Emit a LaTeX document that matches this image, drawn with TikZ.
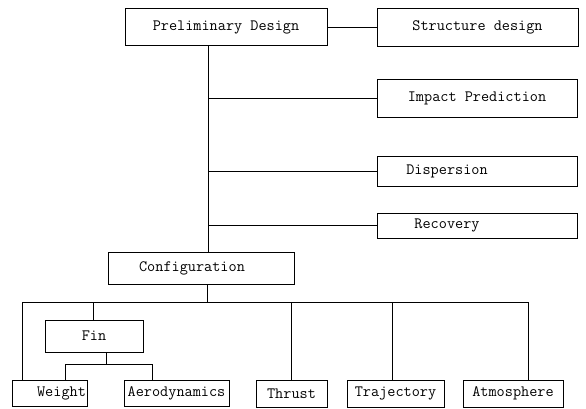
\documentclass[tikz,border=0pt]{standalone}
\begin{document}
\begin{tikzpicture}[x=1pt,y=-1pt, line width=0.8pt,
  box/.style={draw, rectangle, inner sep=0pt, font=\ttfamily\fontsize{15.8}{17}\selectfont},
  lbl/.style={inner sep=0pt, font=\ttfamily\fontsize{15.8}{17}\selectfont}]
\useasboundingbox (0,0) rectangle (586,408);
% top boxes
\node[box, minimum width=202pt, minimum height=37pt] (prelim) at (226,27) {Preliminary Design};
\node[box, minimum width=201pt, minimum height=38pt] (struct) at (477.5,27) {Structure design};
\node[box, minimum width=200pt, minimum height=38pt] (impact) at (477,98.5) {Impact Prediction};
\node[box, minimum width=200pt, minimum height=30pt, label={[lbl, xshift=-30pt]center:Dispersion}] (disp) at (477,171) {};
\node[box, minimum width=200pt, minimum height=25pt, label={[lbl, xshift=-30pt]center:Recovery}] (recov) at (477,225.5) {};
\node[box, minimum width=186pt, minimum height=32pt, label={[lbl, xshift=-9pt]center:Configuration}] (config) at (201,268) {};
% lower boxes
\node[box, minimum width=98pt, minimum height=32pt] (fin) at (94,336) {Fin};
\node[box, minimum width=75pt, minimum height=26pt, label={[lbl, xshift=12pt]center:Weight}] (weight) at (49.5,393.5) {};
\node[box, minimum width=105pt, minimum height=26pt] (aero) at (176.5,393.5) {Aerodynamics};
\node[box, minimum width=71pt, minimum height=27pt] (thrust) at (291.5,393.5) {Thrust};
\node[box, minimum width=97pt, minimum height=27pt] (traj) at (395.5,393.5) {Trajectory};
\node[box, minimum width=100pt, minimum height=27pt] (atmos) at (513,393.5) {Atmosphere};
% connector points
\coordinate (ta) at (208,46);
\coordinate (bus) at (207,302);
\coordinate (b0) at (22,302);
\coordinate (b1) at (528,302);
\coordinate (bf) at (93,302);
\coordinate (bt) at (291,302);
\coordinate (bj) at (392,302);
\coordinate (fs) at (106,364);
\coordinate (fs0) at (65,364);
\coordinate (fs1) at (152,364);
% connectors
\draw (prelim.east) -- (struct.west);
\draw (ta |- prelim.south) -- (ta |- config.north);
\draw (ta |- impact.west) -- (impact.west);
\draw (ta |- disp.west) -- (disp.west);
\draw (ta |- recov.west) -- (recov.west);
\draw (bus |- config.south) -- (bus);
\draw (b0 |- weight.north) -- (b0) -- (b1) -- (b1 |- atmos.north);
\draw (bf) -- (bf |- fin.north);
\draw (bt) -- (bt |- thrust.north);
\draw (bj) -- (bj |- traj.north);
\draw (fs |- fin.south) -- (fs);
\draw (fs0 |- weight.north) -- (fs0) -- (fs1) -- (fs1 |- aero.north);
\end{tikzpicture}
\end{document}
